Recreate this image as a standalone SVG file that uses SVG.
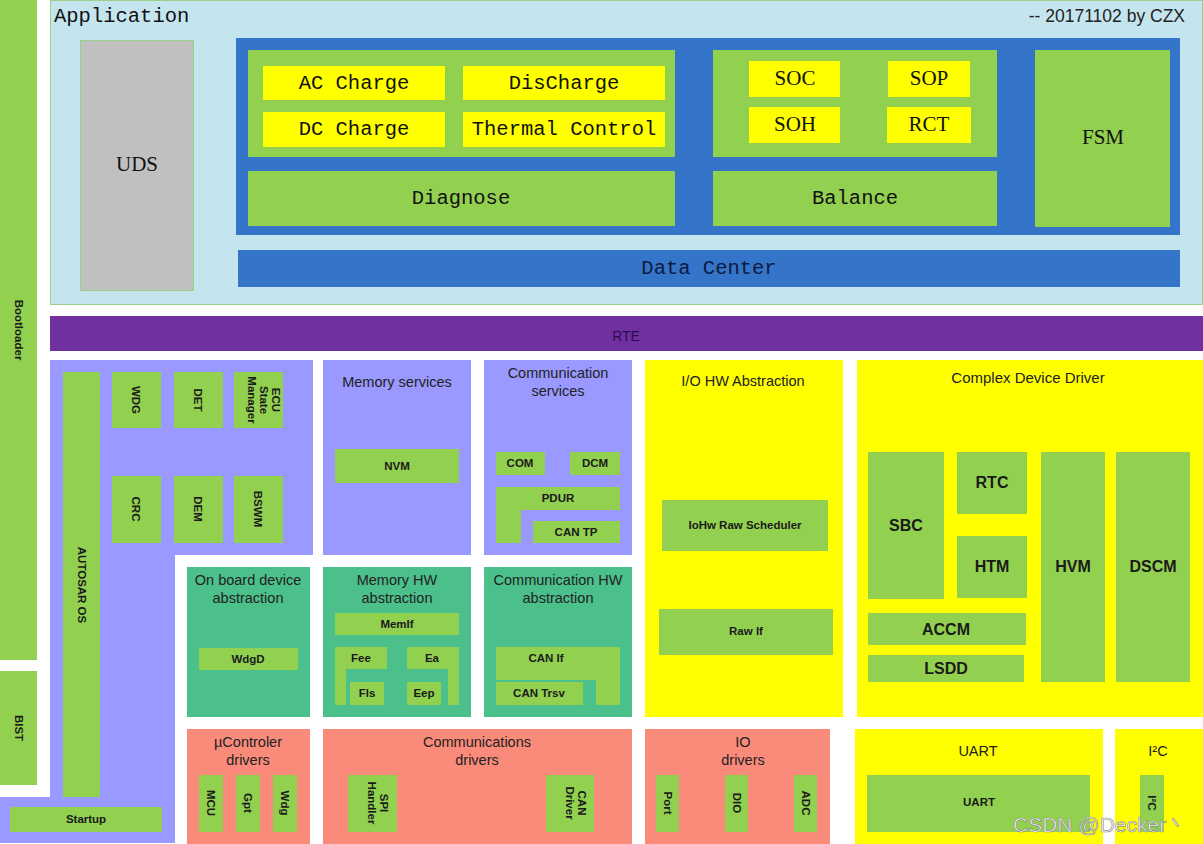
<svg xmlns="http://www.w3.org/2000/svg" width="1203" height="844" viewBox="0 0 1203 844">
<style>
.g{fill:#92d050}
.y{fill:#ffff00}
.bl{fill:#3474c9}
.lav{fill:#9999ff}
.teal{fill:#4bc08a}
.sal{fill:#fa8a7a}
.mono{font-family:"Liberation Mono","DejaVu Sans Mono",monospace;font-size:20.5px;fill:#111;text-anchor:middle}
.ser{font-family:"Liberation Serif","DejaVu Serif",serif;font-size:21px;fill:#111;text-anchor:middle}
.t{font-family:"Liberation Sans",Arial,sans-serif;font-size:14.5px;fill:#222;text-anchor:middle}
.b{font-family:"Liberation Sans",Arial,sans-serif;font-size:11.5px;font-weight:bold;fill:#1a1a1a;text-anchor:middle}
.B{font-family:"Liberation Sans",Arial,sans-serif;font-size:16px;font-weight:bold;fill:#1a1a1a;text-anchor:middle}
</style>
<rect width="1203" height="844" fill="#ffffff"/>

<g id="bootloader"><rect class="g" x="0" y="0" width="37" height="660"/><text class="b" transform="translate(15,330) rotate(90)">Bootloader</text></g>
<g id="bist"><rect class="g" x="0" y="671" width="37" height="114"/><text class="b" transform="translate(15,728) rotate(90)">BIST</text></g>

<g id="application">
<rect x="50.5" y="0.5" width="1152" height="304" fill="#c5e5ee" stroke="#9ad08a" stroke-width="1"/>
<text x="54" y="22" style="font-family:'Liberation Mono','DejaVu Sans Mono',monospace;font-size:20.5px;fill:#111">Application</text>
<text x="1185" y="22" style="font-family:'Liberation Sans',Arial,sans-serif;font-size:17.5px;fill:#222;text-anchor:end">-- 20171102 by CZX</text>
</g>
<g id="uds"><rect x="80.5" y="40.5" width="113" height="250" fill="#c0c0c0" stroke="#9ad08a"/><text class="ser" x="137" y="171">UDS</text></g>
<g id="app-core">
<rect class="bl" x="236" y="38" width="944" height="197"/>
<rect class="g" x="248" y="50" width="427" height="107"/>
<rect class="g" x="713" y="50" width="284" height="107"/>
</g>
<g id="ac-charge"><rect class="y" x="263" y="66" width="182" height="34"/><text class="mono" x="354" y="89">AC Charge</text></g>
<g id="dc-charge"><rect class="y" x="263" y="112" width="182" height="35"/><text class="mono" x="354" y="135">DC Charge</text></g>
<g id="discharge"><rect class="y" x="463" y="66" width="202" height="34"/><text class="mono" x="564" y="89">DisCharge</text></g>
<g id="thermal"><rect class="y" x="463" y="112" width="202" height="35"/><text class="mono" x="564" y="135">Thermal Control</text></g>
<g id="diagnose"><rect class="g" x="248" y="171" width="427" height="55"/><text class="mono" x="461" y="204">Diagnose</text></g>
<g id="soc"><rect class="y" x="749" y="61" width="91" height="36"/><text class="ser" x="795" y="85">SOC</text></g>
<g id="soh"><rect class="y" x="749" y="107" width="91" height="36"/><text class="ser" x="795" y="131">SOH</text></g>
<g id="sop"><rect class="y" x="888" y="61" width="82" height="36"/><text class="ser" x="929" y="85">SOP</text></g>
<g id="rct"><rect class="y" x="887" y="107" width="84" height="36"/><text class="ser" x="929" y="131">RCT</text></g>
<g id="balance"><rect class="g" x="713" y="171" width="284" height="55"/><text class="mono" x="855" y="204">Balance</text></g>
<g id="fsm"><rect class="g" x="1035" y="50" width="135" height="177"/><text class="ser" x="1103" y="144">FSM</text></g>
<g id="data-center"><rect class="bl" x="238" y="250" width="942" height="37"/><text class="mono" x="709" y="274" style="fill:#0d1a40">Data Center</text></g>

<g id="rte"><rect x="50" y="316" width="1153" height="35" fill="#7030a0"/><text x="626" y="341" style="font-family:'Liberation Sans',Arial,sans-serif;font-size:14px;fill:#2a0a50;text-anchor:middle">RTE</text></g>

<g id="system-services">
<path class="lav" d="M50 360H313V555H175V843H0V797H50Z"/>
</g>
<g id="autosar-os"><rect class="g" x="63" y="372" width="37" height="425"/><text class="b" transform="translate(78,585) rotate(90)">AUTOSAR OS</text></g>
<g id="startup"><rect class="g" x="10" y="807" width="152" height="25"/><text class="b" x="86" y="823">Startup</text></g>
<g id="wdg"><rect class="g" x="112" y="372" width="49" height="56"/><text class="b" transform="translate(132,400) rotate(90)">WDG</text></g>
<g id="det"><rect class="g" x="174" y="372" width="49" height="56"/><text class="b" transform="translate(194,400) rotate(90)">DET</text></g>
<g id="ecum"><rect class="g" x="234" y="372" width="49" height="56"/><text class="b" transform="translate(258,400) rotate(90)"><tspan x="0" y="-14">ECU</tspan><tspan x="0" y="-2">State</tspan><tspan x="0" y="10">Manager</tspan></text></g>
<g id="crc"><rect class="g" x="112" y="476" width="49" height="67"/><text class="b" transform="translate(132,509) rotate(90)">CRC</text></g>
<g id="dem"><rect class="g" x="174" y="476" width="49" height="67"/><text class="b" transform="translate(194,509) rotate(90)">DEM</text></g>
<g id="bswm"><rect class="g" x="234" y="476" width="49" height="67"/><text class="b" transform="translate(254,509) rotate(90)">BSWM</text></g>

<g id="memory-services"><rect class="lav" x="323" y="360" width="148" height="195"/><text class="t" x="397" y="387">Memory services</text></g>
<g id="nvm"><rect class="g" x="335" y="449" width="124" height="34"/><text class="b" x="397" y="470">NVM</text></g>

<g id="comm-services"><rect class="lav" x="484" y="360" width="148" height="195"/><text class="t" x="558" y="378">Communication</text><text class="t" x="558" y="396">services</text></g>
<g id="com"><rect class="g" x="496" y="452" width="49" height="23"/><text class="b" x="520" y="467">COM</text></g>
<g id="dcm"><rect class="g" x="570" y="452" width="50" height="23"/><text class="b" x="595" y="467">DCM</text></g>
<g id="pdur"><path class="g" d="M496 487H620V510H521V543H496Z"/><text class="b" x="558" y="502">PDUR</text></g>
<g id="cantp"><rect class="g" x="533" y="521" width="87" height="22"/><text class="b" x="576" y="536">CAN TP</text></g>

<g id="onboard"><rect class="teal" x="187" y="567" width="123" height="150"/><text class="t" x="248" y="585">On board device</text><text class="t" x="248" y="603">abstraction</text></g>
<g id="wdgd"><rect class="g" x="199" y="648" width="99" height="22"/><text class="b" x="248" y="663">WdgD</text></g>

<g id="memhw"><rect class="teal" x="323" y="567" width="148" height="150"/><text class="t" x="397" y="585">Memory HW</text><text class="t" x="397" y="603">abstraction</text></g>
<g id="memif"><rect class="g" x="335" y="613" width="124" height="22"/><text class="b" x="397" y="628">MemIf</text></g>
<g id="fee"><path class="g" d="M335 647H387V669H346V705H335Z"/><text class="b" x="361" y="662">Fee</text></g>
<g id="fls"><rect class="g" x="350" y="682" width="34" height="23"/><text class="b" x="367" y="697">Fls</text></g>
<g id="ea"><path class="g" d="M407 647H459V705H448V669H407Z"/><text class="b" x="432" y="662">Ea</text></g>
<g id="eep"><rect class="g" x="407" y="682" width="34" height="23"/><text class="b" x="424" y="697">Eep</text></g>

<g id="commhw"><rect class="teal" x="484" y="567" width="148" height="150"/><text class="t" x="558" y="585">Communication HW</text><text class="t" x="558" y="603">abstraction</text></g>
<g id="canif"><path class="g" d="M496 647H620V705H596V680H496Z"/><text class="b" x="546" y="662">CAN If</text></g>
<g id="cantrsv"><rect class="g" x="496" y="682" width="87" height="23"/><text class="b" x="539" y="697">CAN Trsv</text></g>

<g id="iohw"><rect class="y" x="645" y="360" width="198" height="357"/><text class="t" x="743" y="386">I/O HW Abstraction</text></g>
<g id="iohw-raw"><rect class="g" x="662" y="500" width="166" height="51"/><text class="b" x="745" y="529">IoHw Raw Scheduler</text></g>
<g id="rawif"><rect class="g" x="659" y="609" width="174" height="46"/><text class="b" x="746" y="635">Raw If</text></g>

<g id="cdd"><rect class="y" x="857" y="360" width="346" height="357"/><text class="t" x="1028" y="383" style="font-size:15px">Complex Device Driver</text></g>
<g id="sbc"><rect class="g" x="868" y="452" width="76" height="147"/><text class="B" x="906" y="531">SBC</text></g>
<g id="rtc"><rect class="g" x="957" y="452" width="70" height="62"/><text class="B" x="992" y="488">RTC</text></g>
<g id="htm"><rect class="g" x="957" y="536" width="70" height="62"/><text class="B" x="992" y="572">HTM</text></g>
<g id="hvm"><rect class="g" x="1041" y="452" width="64" height="230"/><text class="B" x="1073" y="572">HVM</text></g>
<g id="dscm"><rect class="g" x="1116" y="452" width="74" height="230"/><text class="B" x="1153" y="572">DSCM</text></g>
<g id="accm"><rect class="g" x="868" y="613" width="158" height="32"/><text class="B" x="946" y="635">ACCM</text></g>
<g id="lsdd"><rect class="g" x="868" y="655" width="156" height="27"/><text class="B" x="946" y="674">LSDD</text></g>

<g id="mcu-drivers"><rect class="sal" x="187" y="729" width="123" height="115"/><text class="t" x="248" y="747">µControler</text><text class="t" x="248" y="765">drivers</text></g>
<g id="mcu"><rect class="g" x="199" y="775" width="24" height="57"/><text class="b" transform="translate(207,803) rotate(90)">MCU</text></g>
<g id="gpt"><rect class="g" x="236" y="775" width="24" height="57"/><text class="b" transform="translate(244,803) rotate(90)">Gpt</text></g>
<g id="wdg-drv"><rect class="g" x="273" y="775" width="24" height="57"/><text class="b" transform="translate(281,803) rotate(90)">Wdg</text></g>

<g id="comm-drivers"><rect class="sal" x="323" y="729" width="309" height="115"/><text class="t" x="477" y="747">Communications</text><text class="t" x="477" y="765">drivers</text></g>
<g id="spi"><rect class="g" x="348" y="775" width="49" height="57"/><text class="b" transform="translate(372,803) rotate(90)"><tspan x="0" y="-8">SPI</tspan><tspan x="0" y="4">Handler</tspan></text></g>
<g id="candrv"><rect class="g" x="546" y="775" width="48" height="57"/><text class="b" transform="translate(570,803) rotate(90)"><tspan x="0" y="-8">CAN</tspan><tspan x="0" y="4">Driver</tspan></text></g>

<g id="io-drivers"><rect class="sal" x="645" y="729" width="185" height="115"/><text class="t" x="743" y="747">IO</text><text class="t" x="743" y="765">drivers</text></g>
<g id="port"><rect class="g" x="656" y="775" width="23" height="57"/><text class="b" transform="translate(664,803) rotate(90)">Port</text></g>
<g id="dio"><rect class="g" x="725" y="775" width="23" height="57"/><text class="b" transform="translate(733,803) rotate(90)">DIO</text></g>
<g id="adc"><rect class="g" x="794" y="775" width="23" height="57"/><text class="b" transform="translate(802,803) rotate(90)">ADC</text></g>

<g id="uart"><rect class="y" x="855" y="729" width="248" height="115"/><text class="t" x="978" y="756">UART</text></g>
<g id="uart-drv"><rect class="g" x="867" y="775" width="223" height="57"/><text class="b" x="979" y="806">UART</text></g>
<g id="i2c"><rect class="y" x="1115" y="729" width="88" height="115"/><text class="t" x="1158" y="756">I²C</text></g>
<g id="i2c-drv"><rect class="g" x="1140" y="775" width="24" height="57"/><text class="b" transform="translate(1148,803) rotate(90)">I²C</text></g>

<g id="connectors"></g>

<text x="1013" y="832" style="font-family:'Liberation Sans',Arial,sans-serif;font-size:21px;fill:#f4f4f4;stroke:#777;stroke-width:0.7;stroke-opacity:0.8">CSDN @Decker丶</text>
</svg>
